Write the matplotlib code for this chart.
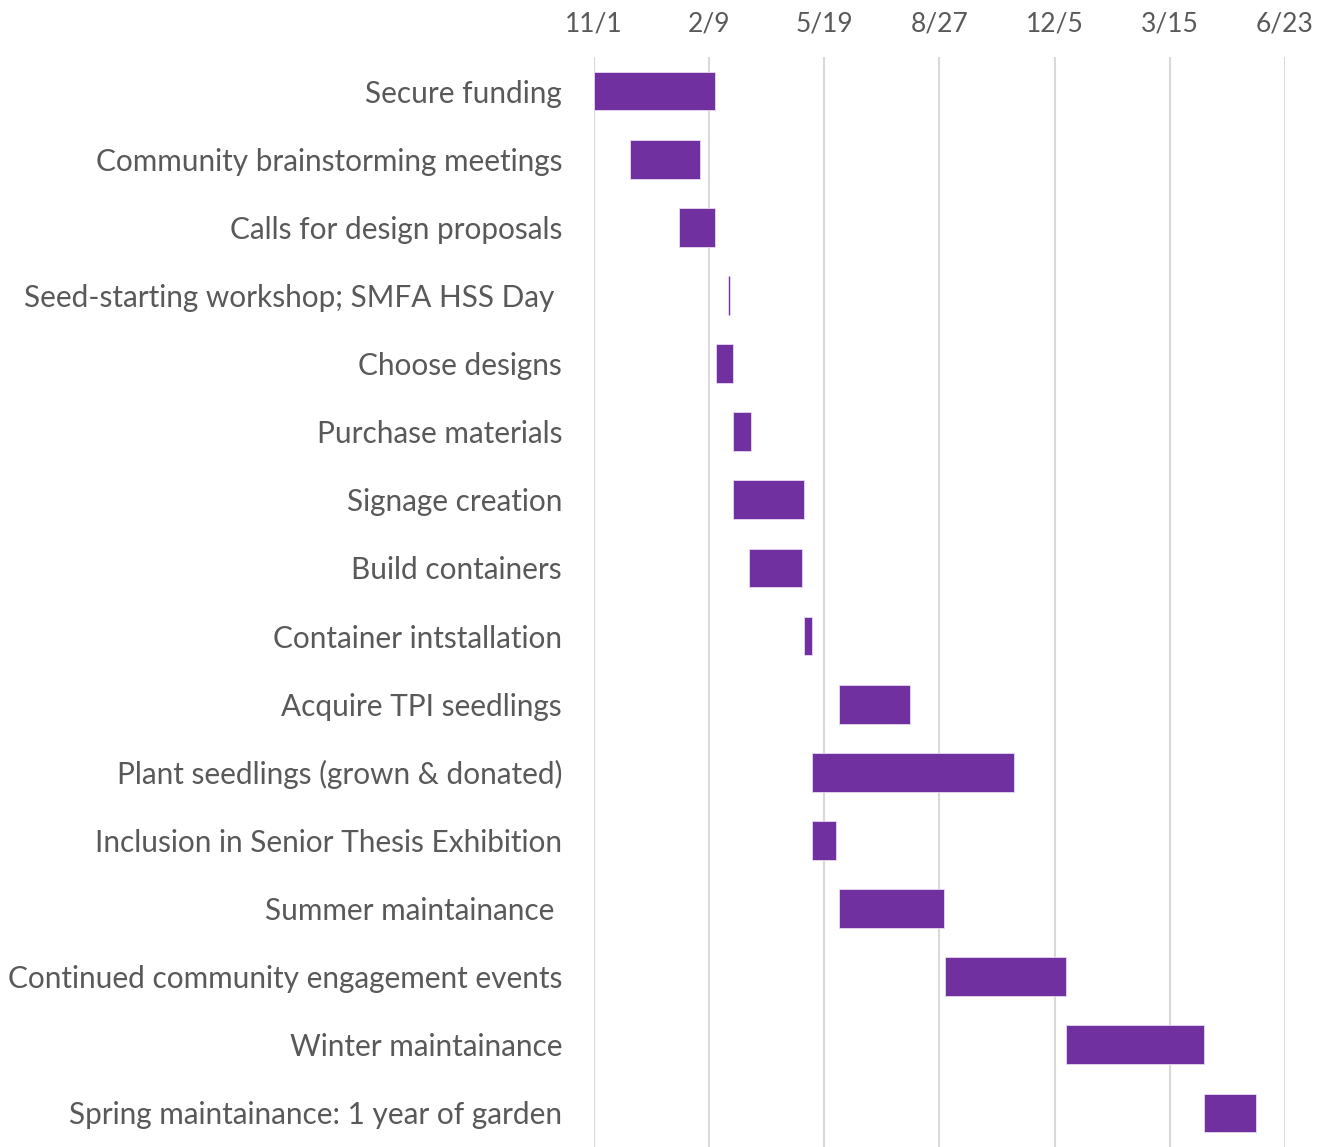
import pandas as pd
import matplotlib
matplotlib.use("Agg")
import matplotlib.pyplot as plt
import matplotlib.dates as mdates

## DATA ##
tasks = ["Secure funding",
         "Community brainstorming meetings",
         "Calls for design proposals",
         "Seed-starting workshop; SMFA HSS Day ",
         "Choose designs",
         "Purchase materials",
         "Signage creation",
         "Build containers",
         "Container intstallation",
         "Acquire TPI seedlings",
         "Plant seedlings (grown & donated)",
         "Inclusion in Senior Thesis Exhibition",
         "Summer maintainance ",
         "Continued community engagement events",
         "Winter maintainance",
         "Spring maintainance: 1 year of garden"]
start_dates = ["2019-11-01", "2019-12-02", "2020-01-14", "2020-02-26",
               "2020-02-15", "2020-03-01", "2020-03-01", "2020-03-15",
               "2020-05-01", "2020-06-01", "2020-05-08", "2020-05-08",
               "2020-06-01", "2020-09-01", "2020-12-15", "2021-04-14"]
end_dates = ["2020-02-14", "2020-02-01", "2020-02-14", "2020-02-26",
             "2020-03-01", "2020-03-16", "2020-05-01", "2020-04-30",
             "2020-05-08", "2020-08-01", "2020-10-31", "2020-05-29",
             "2020-08-31", "2020-12-15", "2021-04-14", "2021-05-29"]
axis_start = "2019-11-01"
axis_end = "2021-06-23"

df = pd.DataFrame({"task": tasks,
                   "start": pd.to_datetime(start_dates),
                   "end": pd.to_datetime(end_dates)})
df["left"] = mdates.date2num(df["start"])
df["width"] = mdates.date2num(df["end"]) - df["left"]

plt.rcParams['font.family'] = ['Lato', 'DejaVu Sans']
gray = '#595959'
purple = '#7030A0'

fig = plt.figure(figsize=(13.25, 11.47), dpi=100)
ax = fig.add_axes([0.4483, 0.0, 0.9698 - 0.4483, 0.9503])

ypos = list(range(len(df)))
# zero-length tasks (milestones) show up as a thin purple line, like in Excel
edges = [purple if w == 0 else '#E6D9F0' for w in df["width"]]
lws = [1.0 if w == 0 else 0.6 for w in df["width"]]
ax.barh(ypos, df["width"], left=df["left"], height=0.57,
        color=purple, edgecolor=edges, linewidth=lws, zorder=3)
ax.set_ylim(len(df) - 0.5, -0.5)
ax.set_yticks(ypos)
ax.set_yticklabels(df["task"], fontsize=21.4, color=gray)

ticks = pd.date_range(axis_start, periods=7, freq='100D')
ax.set_xticks(mdates.date2num(ticks))
ax.set_xticklabels([f"{d.month}/{d.day}" for d in ticks], fontsize=19, color=gray)
ax.set_xlim(mdates.date2num(pd.Timestamp(axis_start)), mdates.date2num(pd.Timestamp(axis_end)))
ax.xaxis.tick_top()
ax.tick_params(axis='both', length=0)
ax.tick_params(axis='x', pad=15)
ax.tick_params(axis='y', pad=23)

ax.grid(True, axis='x', color='#D9D9D9', linewidth=1.5, zorder=0)
for s in ax.spines.values():
    s.set_visible(False)

fig.savefig("out.png", dpi=100)
